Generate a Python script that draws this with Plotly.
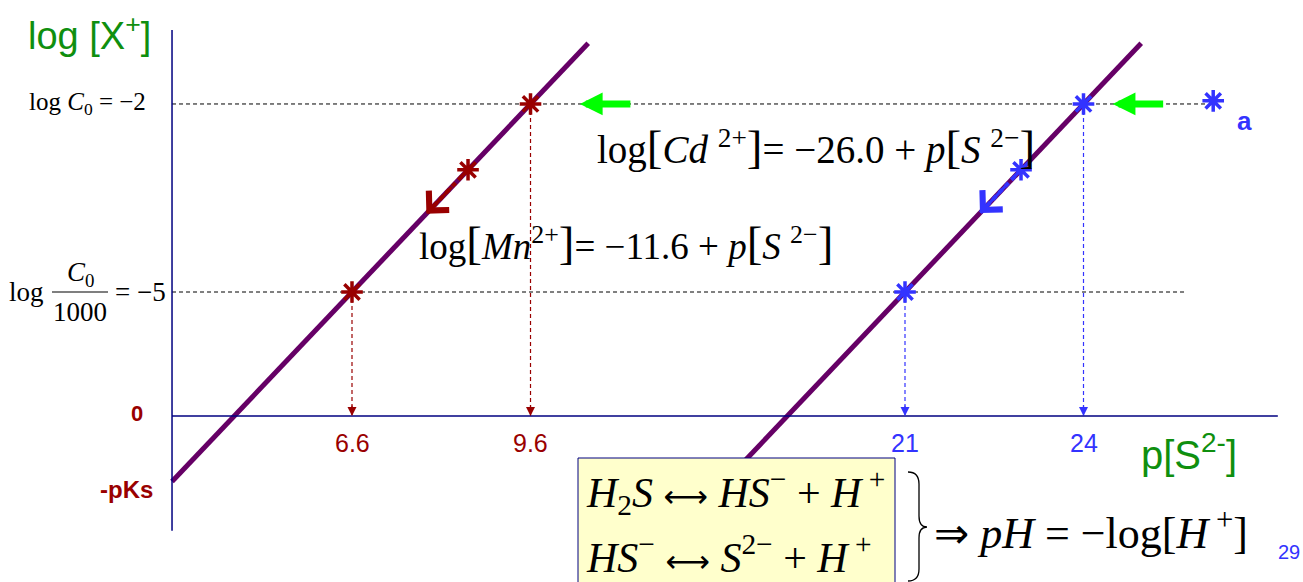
import plotly.graph_objects as go

W, H = 1303, 582

# Solubility lines: log[M2+] = LOGK + p[S2-]
METALS = ["Mn", "Cd"]
LOGK = {"Mn": -11.6, "Cd": -26.0}
# Concentration levels: log C0 and log C0/1000
LEVEL_C0 = -2
LEVEL_C0_1000 = -5
# p[S2-] where each line meets the two levels (these are the axis labels)
PS_TICKS = {"Mn": [6.6, 9.6], "Cd": [21, 24]}
# intermediate point on each line and the end of its small arrow
PS_MID = {"Mn": 8.55, "Cd": 22.95}
PS_ARROW_END = {"Mn": 7.85, "Cd": 22.26}
# p[S2-] extent of each drawn line
PS_SPAN = {"Mn": [3.575, 10.57], "Cd": [17.9, 24.97]}
# extra reference star "a" (Cd p[S2-] units, log value)
STAR_A = (26.18, -1.95)

COLORS = {"Mn": "#990000", "Cd": "#3333FF"}
LINE_COLOR = "#660066"
AXIS_COLOR = "#000080"
GREEN = "#00FF00"
LABEL_GREEN = "#0F8F0F"
SERIF = "Liberation Serif"
SANS = "Liberation Sans"

# broken p[S2-] axis: the Cd part is pulled left by this many units
PS_SHIFT = {"Mn": 0.0, "Cd": 5.106}

X_RANGE = [0.684, 22.583]
Y_RANGE = [-9.627, -0.341]
AXIS_X = 3.575          # vertical axis position
AXIS_Y = -6.98          # horizontal axis (drawn as the "0" line)
AXIS_TOP, AXIS_BOTTOM = -0.82, -8.81
AXIS_RIGHT = 22.16
GUIDE_END = {LEVEL_C0: 20.94, LEVEL_C0_1000: 20.60}


def px(x):
    return x / W


def py(y):
    return 1 - y / H


def plot_x(metal, ps):
    return ps - PS_SHIFT[metal]


fig = go.Figure()

# dashed guide lines at the two concentration levels
for lvl, xend in GUIDE_END.items():
    fig.add_trace(go.Scatter(
        x=[AXIS_X, xend], y=[lvl, lvl], mode="lines",
        line=dict(color="black", width=1, dash="4px,3px"), hoverinfo="skip"))

annotations = []

for m in METALS:
    k = LOGK[m]
    c = COLORS[m]
    # drop lines from the level crossings down to the axis
    for p in PS_TICKS[m]:
        fig.add_trace(go.Scatter(
            x=[plot_x(m, p), plot_x(m, p)], y=[k + p, AXIS_Y], mode="lines",
            line=dict(color=c, width=1.2, dash="4px,3px"), hoverinfo="skip"))
        annotations.append(dict(
            x=plot_x(m, p), y=AXIS_Y, xref="x", yref="y", ax=0, ay=-12,
            text="", showarrow=True, arrowhead=2, arrowsize=1.5,
            arrowwidth=1.2, arrowcolor=c))
        annotations.append(dict(
            x=plot_x(m, p), y=AXIS_Y, xref="x", yref="y", yshift=-27,
            text=f"{p:g}", showarrow=False,
            font=dict(family=SANS, size=25, color=c)))

    # solubility line
    xs = [plot_x(m, p) for p in PS_SPAN[m]]
    ys = [k + p for p in PS_SPAN[m]]
    fig.add_trace(go.Scatter(x=xs, y=ys, mode="lines",
                             line=dict(color=LINE_COLOR, width=5),
                             hoverinfo="skip"))

    # dashed arrow sliding down the line
    fig.add_trace(go.Scatter(
        x=[plot_x(m, PS_MID[m]), plot_x(m, PS_ARROW_END[m])],
        y=[k + PS_MID[m], k + PS_ARROW_END[m]], mode="lines",
        line=dict(color=c, width=4, dash="5px,4px"), hoverinfo="skip"))
    annotations.append(dict(
        x=plot_x(m, PS_ARROW_END[m]), y=k + PS_ARROW_END[m],
        ax=plot_x(m, PS_ARROW_END[m] + 0.45), ay=k + PS_ARROW_END[m] + 0.45,
        xref="x", yref="y", axref="x", ayref="y", text="", showarrow=True,
        arrowhead=4, arrowsize=1.8, arrowwidth=3, arrowcolor=c))

    # stars on the line
    sp = PS_TICKS[m] + [PS_MID[m]]
    fig.add_trace(go.Scatter(
        x=[plot_x(m, p) for p in sp], y=[k + p for p in sp], mode="markers",
        marker=dict(symbol="asterisk-open", size=18, color=c,
                    line=dict(color=c, width=3.5)),
        hoverinfo="skip"))

    # green arrow pointing at the C0 level crossing
    p_top = LEVEL_C0 - k
    tip = {"Mn": 0.83, "Cd": 0.49}[m]
    annotations.append(dict(
        x=plot_x(m, p_top + tip), y=LEVEL_C0, xref="x", yref="y",
        ax=52, ay=0, text="", showarrow=True, arrowhead=2, arrowsize=0.65,
        arrowwidth=7, arrowcolor=GREEN))

# reference star "a"
fig.add_trace(go.Scatter(
    x=[plot_x("Cd", STAR_A[0])], y=[STAR_A[1]], mode="markers",
    marker=dict(symbol="asterisk-open", size=18, color=COLORS["Cd"],
                line=dict(color=COLORS["Cd"], width=3.5)),
    hoverinfo="skip"))
annotations.append(dict(
    x=plot_x("Cd", STAR_A[0]), y=STAR_A[1], xref="x", yref="y",
    xshift=31, yshift=-20, text="<b>a</b>", showarrow=False,
    font=dict(family=SANS, size=26, color=COLORS["Cd"])))

shapes = [
    # axes
    dict(type="line", xref="x", yref="y", x0=AXIS_X, x1=AXIS_X,
         y0=AXIS_BOTTOM, y1=AXIS_TOP, line=dict(color=AXIS_COLOR, width=1.5)),
    dict(type="line", xref="x", yref="y", x0=AXIS_X, x1=AXIS_RIGHT,
         y0=AXIS_Y, y1=AXIS_Y, line=dict(color=AXIS_COLOR, width=1.5)),
    # highlighted box with the H2S equilibria
    dict(type="rect", xref="paper", yref="paper", layer="above",
         x0=px(578), x1=px(895), y0=py(600), y1=py(458),
         fillcolor="#FFFFCC", line=dict(color=AXIS_COLOR, width=1)),
    # curly brace
    dict(type="path", xref="paper", yref="paper", layer="above",
         path=(f"M {px(908)},{py(472)} Q {px(919)},{py(472)} {px(919)},{py(484)} "
               f"L {px(919)},{py(516)} Q {px(919)},{py(527)} {px(927)},{py(527)} "
               f"Q {px(919)},{py(527)} {px(919)},{py(538)} "
               f"L {px(919)},{py(569)} Q {px(919)},{py(581)} {px(908)},{py(581)}"),
         line=dict(color="black", width=1.3)),
]


def label(x, y, text, size, color="black", family=SERIF, xanchor="center",
          yanchor="middle"):
    annotations.append(dict(x=px(x), y=py(y), xref="paper", yref="paper",
                            text=text, showarrow=False, xanchor=xanchor,
                            yanchor=yanchor,
                            font=dict(family=family, size=size, color=color)))


# axis titles
label(26, 33, "log [X<sup>+</sup>]", 38, LABEL_GREEN, SANS, xanchor="left")
label(1139, 452, "p[S<sup>2-</sup>]", 40, LABEL_GREEN, SANS, xanchor="left")

# vertical-axis labels
label(148, 103, "log <i>C</i><sub>0</sub> = −2", 25, xanchor="right")
label(46, 292, "log", 27, xanchor="right")
label(80, 274, "<i>C</i><sub>0</sub>", 27)
label(80, 312, "1000", 27)
label(113, 292, "= −5", 27, xanchor="left")
shapes.append(dict(type="line", xref="paper", yref="paper",
                   x0=px(52), x1=px(108), y0=py(292), y1=py(292),
                   line=dict(color="black", width=1.2)))
label(137, 413, "<b>0</b>", 22, COLORS["Mn"], SANS)
label(126, 489, "<b>-pKs</b>", 24, COLORS["Mn"], SANS)

# line equations
big = "<span style='font-size:47px'>"
label(595, 147,
      f"log{big}[</span><i>Cd</i> <sup>2+</sup>{big}]</span>= −26.0 + "
      f"<i>p</i>{big}[</span><i>S</i> <sup>2−</sup>{big}]</span>",
      39, xanchor="left")
label(417, 243,
      f"log{big}[</span><i>Mn</i><sup>2+</sup>{big}]</span>= −11.6 + "
      f"<i>p</i>{big}[</span><i>S</i> <sup>2−</sup>{big}]</span>",
      37, xanchor="left")

# H2S equilibria and pH definition
arrow = "<span style='font-family:DejaVu Sans;font-size:31px'>⟷</span>"
implies = "<span style='font-family:DejaVu Sans;font-size:42px'>⇒</span>"
label(584, 492,
      f"<i>H</i><sub>2</sub><i>S</i> {arrow} <i>HS</i><sup>−</sup> + <i>H</i><sup> +</sup>",
      42, xanchor="left")
label(584, 554,
      f"<i>HS</i><sup>−</sup> {arrow} <i>S</i><sup>2−</sup> + <i>H</i><sup> +</sup>",
      42, xanchor="left")
label(932, 530, f"{implies} <i>pH</i> = −log[<i>H</i><sup> +</sup>]", 44,
      xanchor="left")

# page number
label(1289, 552, "29", 20, COLORS["Cd"], SANS)

fig.update_layout(
    width=W, height=H, margin=dict(l=0, r=0, t=0, b=0),
    paper_bgcolor="white", plot_bgcolor="white", showlegend=False,
    xaxis=dict(visible=False, range=X_RANGE, fixedrange=True),
    yaxis=dict(visible=False, range=Y_RANGE, fixedrange=True),
    shapes=shapes, annotations=annotations,
)

fig.write_html("out.html")
